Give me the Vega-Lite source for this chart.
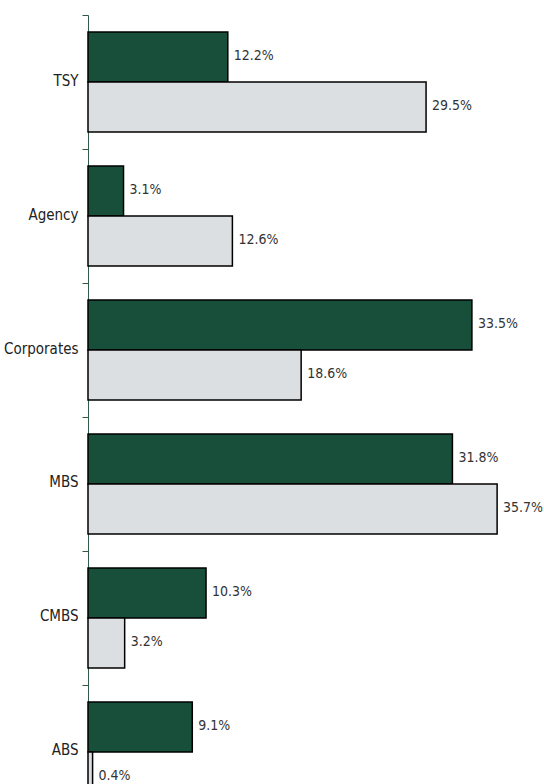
{
  "$schema": "https://vega.github.io/schema/vega-lite/v6.json",
  "width": 458.4,
  "height": 804,
  "autosize": {"type": "none"},
  "padding": {"left": 88, "top": 15, "right": 0, "bottom": 0},
  "background": "white",
  "config": {"view": {"stroke": null}, "font": "DejaVu Sans Condensed"},
  "data": {
    "values": [
      {"cat": "TSY", "series": "A", "value": 0.122},
      {"cat": "TSY", "series": "B", "value": 0.295},
      {"cat": "Agency", "series": "A", "value": 0.031},
      {"cat": "Agency", "series": "B", "value": 0.126},
      {"cat": "Corporates", "series": "A", "value": 0.335},
      {"cat": "Corporates", "series": "B", "value": 0.186},
      {"cat": "MBS", "series": "A", "value": 0.318},
      {"cat": "MBS", "series": "B", "value": 0.357},
      {"cat": "CMBS", "series": "A", "value": 0.103},
      {"cat": "CMBS", "series": "B", "value": 0.032},
      {"cat": "ABS", "series": "A", "value": 0.091},
      {"cat": "ABS", "series": "B", "value": 0.004}
    ]
  },
  "encoding": {
    "y": {
      "field": "cat",
      "type": "nominal",
      "sort": ["TSY", "Agency", "Corporates", "MBS", "CMBS", "ABS"],
      "scale": {"paddingInner": 0, "paddingOuter": 0},
      "axis": {
        "title": null,
        "tickBand": "extent",
        "domainColor": "#2d5a46",
        "tickColor": "#2d5a46",
        "tickSize": 6,
        "labelPadding": 4,
        "labelFontSize": 15,
        "labelColor": "#222222",
        "labelFont": "DejaVu Sans Condensed",
        "labelOffset": -2
      }
    },
    "yOffset": {
      "field": "series",
      "type": "nominal",
      "scale": {"paddingOuter": 0.34, "paddingInner": 0}
    },
    "x": {
      "field": "value",
      "type": "quantitative",
      "scale": {"domain": [0, 0.4]},
      "axis": null
    }
  },
  "layer": [
    {
      "mark": {"type": "bar", "stroke": "black", "strokeWidth": 1.5},
      "encoding": {
        "color": {
          "field": "series",
          "type": "nominal",
          "scale": {"range": ["#174f3a", "#dcdfe2"]},
          "legend": null
        }
      }
    },
    {
      "mark": {"type": "text", "align": "left", "baseline": "middle", "dx": 6, "dy": -1, "fontSize": 14, "color": "#333333", "font": "DejaVu Sans Condensed"},
      "encoding": {"text": {"field": "value", "type": "quantitative", "format": ".1%"}}
    }
  ]
}
